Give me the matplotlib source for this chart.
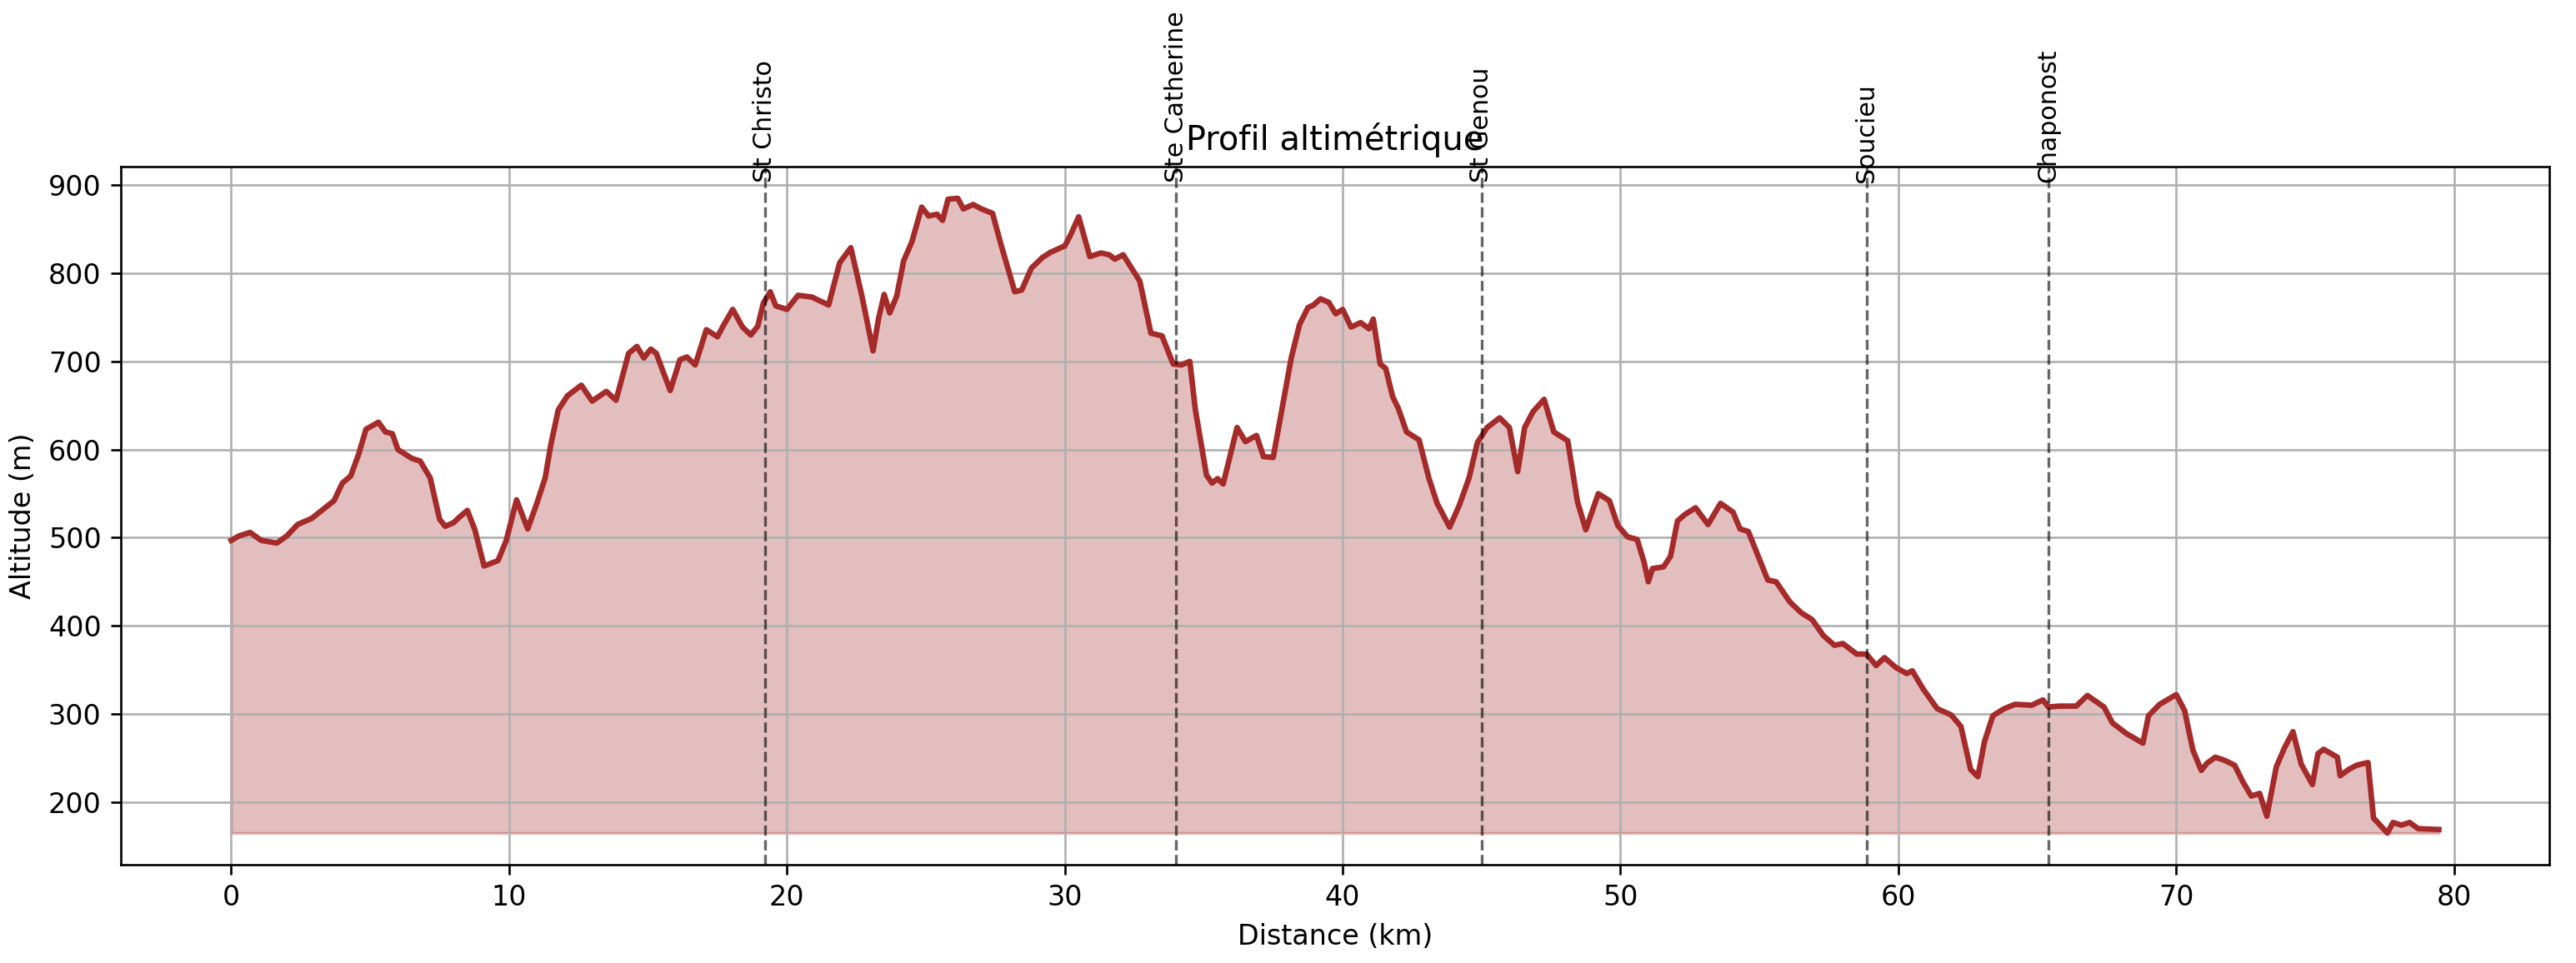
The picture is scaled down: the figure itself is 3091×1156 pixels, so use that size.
# profil.py
# Elevation profile with towns along the route

import matplotlib
matplotlib.use("Agg")
from matplotlib import pyplot as plt

# distance (km) and altitude (m)
distance = [0.0, 0.28, 0.68, 1.08, 1.64, 2.0, 2.39, 2.9, 3.3, 3.7, 4.0, 4.3, 4.6, 4.85,
            5.3, 5.55, 5.8, 6.0, 6.5, 6.8, 7.16, 7.5, 7.7, 8.0, 8.2, 8.5, 8.77, 9.1,
            9.6, 9.9, 10.27, 10.67, 11.0, 11.3, 11.5, 11.77, 12.1, 12.6, 12.99, 13.5,
            13.85, 14.3, 14.6, 14.85, 15.1, 15.3, 15.8, 16.15, 16.4, 16.7, 17.1, 17.5,
            17.7, 18.05, 18.4, 18.7, 18.95, 19.15, 19.4, 19.6, 20.0, 20.4, 20.9, 21.5,
            21.9, 22.3, 22.7, 23.1, 23.3, 23.5, 23.7, 23.95, 24.2, 24.5, 24.85, 25.1,
            25.4, 25.6, 25.8, 26.15, 26.35, 26.7, 27.0, 27.4, 27.7, 28.2, 28.45, 28.8,
            29.2, 29.5, 30.0, 30.2, 30.5, 30.9, 31.3, 31.6, 31.8, 32.1, 32.4, 32.7,
            33.1, 33.5, 33.9, 34.2, 34.5, 34.7, 35.1, 35.3, 35.5, 35.7, 36.2, 36.5,
            36.9, 37.15, 37.5, 38.15, 38.45, 38.75, 38.95, 39.2, 39.5, 39.75, 40.0,
            40.3, 40.65, 40.95, 41.1, 41.35, 41.55, 41.8, 42.0, 42.3, 42.75, 43.1,
            43.4, 43.85, 44.2, 44.55, 44.85, 45.2, 45.65, 46.0, 46.3, 46.55, 46.85,
            47.25, 47.6, 47.8, 48.1, 48.45, 48.75, 49.2, 49.6, 49.9, 50.25, 50.6,
            50.85, 51.0, 51.15, 51.55, 51.8, 52.05, 52.3, 52.7, 53.15, 53.6, 54.05,
            54.3, 54.6, 55.3, 55.6, 56.1, 56.5, 56.9, 57.3, 57.7, 58.0, 58.5, 58.85,
            59.2, 59.5, 59.9, 60.3, 60.5, 60.9, 61.4, 61.9, 62.25, 62.6, 62.86, 63.1,
            63.4, 63.8, 64.2, 64.8, 65.2, 65.4, 65.8, 66.4, 66.8, 67.4, 67.7, 68.2,
            68.8, 69.0, 69.4, 70.0, 70.3, 70.6, 70.9, 71.1, 71.4, 71.7, 72.1, 72.4,
            72.7, 73.0, 73.26, 73.6, 73.9, 74.2, 74.5, 74.9, 75.1, 75.3, 75.8, 75.9,
            76.2, 76.5, 76.9, 77.1, 77.6, 77.8, 78.1, 78.4, 78.7, 79.45]
altitude = [497, 502, 506, 497, 494, 502, 515, 522, 532, 542, 562, 570, 596, 623,
            631, 620, 618, 600, 590, 587, 568, 521, 513, 517, 523, 531, 509, 468,
            474, 497, 543, 510, 539, 568, 605, 645, 661, 673, 655, 666,
            656, 709, 717, 704, 714, 709, 667, 702, 705, 696, 736, 728,
            740, 759, 739, 730, 740, 766, 779, 763, 759, 775, 773, 764,
            812, 829, 774, 712, 749, 776, 755, 774, 814, 836, 875, 865,
            867, 860, 884, 885, 873, 878, 873, 868, 833, 779, 781, 806,
            818, 824, 831, 843, 864, 819, 823, 821, 816, 821, 806, 791,
            732, 729, 697, 696, 700, 645, 571, 562, 567, 561, 625, 609,
            616, 592, 591, 704, 742, 761, 764, 771, 767, 754, 759,
            739, 744, 737, 748, 697, 692, 660, 647, 620, 611, 568,
            539, 512, 537, 568, 608, 625, 636, 625, 575, 625, 643,
            657, 620, 616, 610, 541, 509, 550, 542, 514, 501, 498,
            472, 450, 465, 467, 479, 519, 526, 534, 515, 539, 529,
            510, 507, 452, 450, 427, 415, 407, 389, 378, 380, 368, 368,
            355, 364, 353, 346, 349, 328, 306, 299, 286, 237, 229, 269,
            298, 306, 311, 310, 316, 308, 309, 309, 321, 308, 290, 278,
            267, 298, 311, 322, 304, 259, 236, 244, 251, 248, 242, 223,
            207, 210, 184, 240, 262, 280, 243, 220, 255, 260, 251, 230,
            237, 242, 245, 182, 165, 177, 174, 177, 170, 169]

# towns passed on the way
towns = ["St Christo", "Ste Catherine", "St Genou", "Soucieu", "Chaponost"]
town_km = [19.2, 34.0, 45.0, 58.85, 65.4]

fig = plt.figure(figsize=(3091 / 240, 1156 / 240), dpi=240)
ax = fig.add_axes([0.0469, 0.102, 0.9427, 0.725])

ax.plot(distance, altitude, color="brown", linewidth=2)
ax.fill_between(distance, altitude, min(altitude), color="brown", alpha=0.3)

for name, km in zip(towns, town_km):
    ax.axvline(km, color="k", linestyle="--", linewidth=1, alpha=0.6)
    ax.text(km, max(altitude) + 18, name, rotation=90, fontsize=9,
            ha="center", va="bottom")

ax.set_title("Profil altimétrique")
ax.set_xlabel("Distance (km)")
ax.set_ylabel("Altitude (m)")
ax.grid(True)

fig.savefig("out.png", dpi=240)
